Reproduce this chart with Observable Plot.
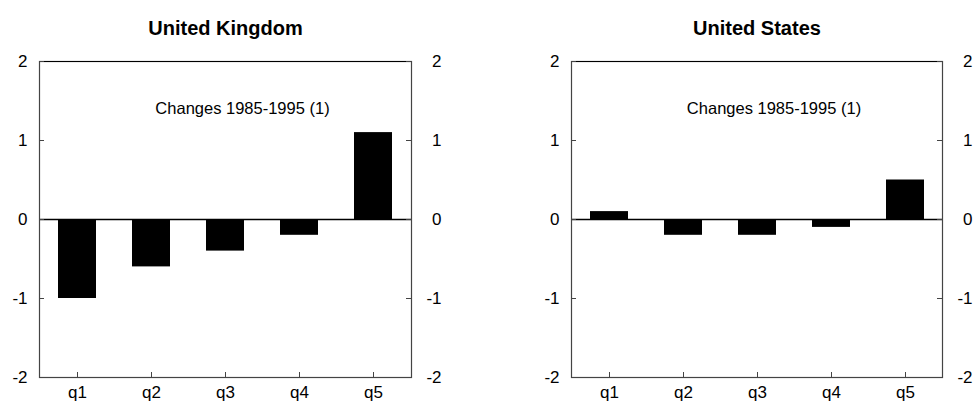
<!DOCTYPE html>
<html><head><meta charset="utf-8">
<script src="https://cdn.jsdelivr.net/npm/d3@7"></script>
<script src="https://cdn.jsdelivr.net/npm/@observablehq/plot@0.6"></script>
<style>
body{margin:0;background:#fff;font-family:Arial,"Liberation Sans",sans-serif}
#wrap{display:flex;width:977px;height:410px}
#wrap svg{display:block}
</style>
</head><body><div id="wrap"></div>
<script>
const quintiles = ["q1","q2","q3","q4","q5"];
const ukValues = [-1.0,-0.6,-0.4,-0.2,1.1];
const usValues = [0.1,-0.2,-0.2,-0.1,0.5];
const yTicks = [-2,-1,0,1,2];
const titles = ["United Kingdom","United States"];
const note = "Changes 1985-1995 (1)";

const FONT = "Arial, 'Liberation Sans', sans-serif";
const fmt = d => String(d);

function panel(title, values, width, ml, mr) {
  const mt = 61, mb = 33, H = 410;
  const innerW = width - ml - mr, innerH = H - mt - mb;
  const data = quintiles.map((q, i) => ({q, v: values[i]}));
  return Plot.plot({
    width, height: H, marginLeft: ml, marginRight: mr, marginTop: mt, marginBottom: mb,
    style: {fontFamily: FONT, fontSize: "17px", background: "white", color: "black", overflow: "visible"},
    x: {domain: quintiles, paddingInner: 0.49, paddingOuter: 0.245, label: null},
    y: {domain: [d3.min(yTicks), d3.max(yTicks)], label: null},
    marks: [
      Plot.barY(data, {x: "q", y: "v", fill: "black"}),
      Plot.ruleY([0], {stroke: "black", strokeWidth: 1.6}),
      Plot.frame({stroke: "#444", strokeWidth: 1.2}),
      Plot.ruleY([d3.max(yTicks)], {stroke: "black", strokeWidth: 1.2}),
      Plot.tickY(yTicks, {y: d => d, insetRight: innerW - 5, stroke: "#444"}),
      Plot.tickY(yTicks, {y: d => d, insetLeft: innerW - 5, stroke: "#444"}),
      Plot.tickX(quintiles, {x: d => d, insetTop: innerH - 5, stroke: "#444"}),
      Plot.axisY(yTicks, {anchor: "left", tickSize: 0, tickPadding: 12, tickFormat: fmt, label: null, fontSize: 17}),
      Plot.axisY(yTicks, {anchor: "right", tickSize: 0, tickPadding: 30, textAnchor: "end", tickFormat: fmt, label: null, fontSize: 17}),
      Plot.axisX(quintiles, {anchor: "bottom", tickSize: 0, tickPadding: 8, label: null, fontSize: 17}),
      Plot.text([title], {frameAnchor: "top", dy: -41, text: d => d, fontWeight: "bold", fontSize: 20}),
      Plot.text([note], {frameAnchor: "top", dx: 17, dy: 41, text: d => d, fontSize: 16.5})
    ]
  });
}

const wrap = document.getElementById("wrap");
wrap.appendChild(panel(titles[0], ukValues, 488, 39, 77));
wrap.appendChild(panel(titles[1], usValues, 489, 83, 35));
</script>
</body></html>
